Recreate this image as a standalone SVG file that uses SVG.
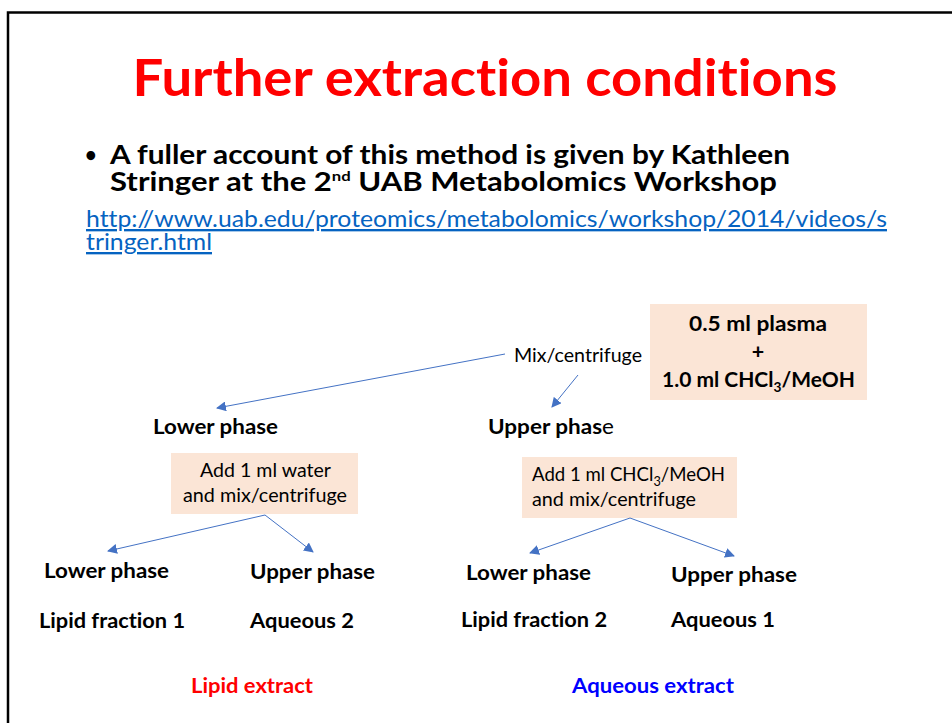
<svg xmlns="http://www.w3.org/2000/svg" width="952" height="723" viewBox="0 0 952 723">
<defs>
<style>
text{font-family:Lato,"Open Sans","Liberation Sans",sans-serif;fill:#000;font-variant-ligatures:none}
.b{font-weight:bold}
.lbl{font-size:20.5px;font-weight:bold}
.big{font-size:21.5px;font-weight:bold}
.box{fill:#FBE5D6}
.st{font-size:19px}
.con line{stroke:#4472C4;stroke-width:1;marker-end:url(#ah)}
</style>
<marker id="ah" viewBox="0 0 10 10" refX="9" refY="5" markerWidth="10" markerHeight="10" markerUnits="userSpaceOnUse" orient="auto">
<path d="M0,0 L10,5 L0,10 z" fill="#4472C4"/>
</marker>
</defs>
<rect x="0" y="0" width="952" height="723" fill="#fff"/>
<path d="M8,723 V12.5 H952" fill="none" stroke="#000" stroke-width="2.5"/>
<g id="title"><text x="485" y="96" text-anchor="middle" font-size="52" class="b" style="fill:#FF0000" textLength="705" lengthAdjust="spacingAndGlyphs">Further extraction conditions</text></g>
<g id="bullet">
<text x="85" y="162" font-size="20" class="b">•</text>
<text x="110" y="164" font-size="26" class="b" textLength="680" lengthAdjust="spacingAndGlyphs">A fuller account of this method is given by Kathleen</text>
<text x="110" y="191" font-size="26" class="b" textLength="667" lengthAdjust="spacingAndGlyphs">Stringer at the 2<tspan font-size="14" dy="-10">nd</tspan><tspan dy="10"> UAB Metabolomics Workshop</tspan></text>
<text x="86" y="227" font-size="23.5" style="fill:#0563C1;text-decoration:underline" textLength="801" lengthAdjust="spacingAndGlyphs">http://www.uab.edu/proteomics/metabolomics/workshop/2014/videos/s</text>
<text x="86" y="250" font-size="23.5" style="fill:#0563C1;text-decoration:underline" textLength="126" lengthAdjust="spacingAndGlyphs">tringer.html</text>
</g>
<g id="start">
<rect class="box" x="650" y="304" width="217" height="96"/>
<text x="758" y="331" text-anchor="middle" class="big" textLength="138" lengthAdjust="spacingAndGlyphs">0.5 ml plasma</text>
<text x="758" y="359" text-anchor="middle" class="big">+</text>
<text x="662" y="387" class="big" textLength="193" lengthAdjust="spacingAndGlyphs">1.0 ml CHCl<tspan font-size="14" dy="5">3</tspan><tspan dy="-5">/MeOH</tspan></text>
</g>
<g id="mix"><text x="514" y="362" class="st" textLength="128" lengthAdjust="spacingAndGlyphs">Mix/centrifuge</text></g>
<g id="lower1"><text x="153" y="434" class="lbl" textLength="125" lengthAdjust="spacingAndGlyphs">Lower phase</text></g>
<g id="upper1"><text x="488" y="434" class="lbl" textLength="126" lengthAdjust="spacingAndGlyphs">Upper phas<tspan font-weight="normal">e</tspan></text></g>
<g id="addwater">
<rect class="box" x="171" y="453" width="187" height="61"/>
<text x="200" y="477" class="st" textLength="131" lengthAdjust="spacingAndGlyphs">Add 1 ml water</text>
<text x="183" y="502" class="st" textLength="164" lengthAdjust="spacingAndGlyphs">and mix/centrifuge</text>
</g>
<g id="addchcl">
<rect class="box" x="522" y="457" width="215" height="61"/>
<text x="532" y="481" class="st" textLength="193" lengthAdjust="spacingAndGlyphs">Add 1 ml CHCl<tspan font-size="13" dy="5">3</tspan><tspan dy="-5">/MeOH</tspan></text>
<text x="532" y="506" class="st" textLength="164" lengthAdjust="spacingAndGlyphs">and mix/centrifuge</text>
</g>
<g id="lower2"><text x="44" y="578" class="lbl" textLength="125" lengthAdjust="spacingAndGlyphs">Lower phase</text></g>
<g id="upper2"><text x="250" y="579" class="lbl" textLength="125" lengthAdjust="spacingAndGlyphs">Upper phase</text></g>
<g id="lipid1"><text x="39" y="628" class="lbl" textLength="146" lengthAdjust="spacingAndGlyphs">Lipid fraction 1</text></g>
<g id="aq2"><text x="250" y="628" class="lbl" textLength="104" lengthAdjust="spacingAndGlyphs">Aqueous 2</text></g>
<g id="lower3"><text x="466" y="580" class="lbl" textLength="125" lengthAdjust="spacingAndGlyphs">Lower phase</text></g>
<g id="upper3"><text x="671" y="582" class="lbl" textLength="126" lengthAdjust="spacingAndGlyphs">Upper phase</text></g>
<g id="lipid2"><text x="461" y="627" class="lbl" textLength="146" lengthAdjust="spacingAndGlyphs">Lipid fraction 2</text></g>
<g id="aq1"><text x="671" y="627" class="lbl" textLength="104" lengthAdjust="spacingAndGlyphs">Aqueous 1</text></g>
<g id="lipidext"><text x="191" y="693" class="lbl" style="fill:#FF0000" textLength="122" lengthAdjust="spacingAndGlyphs">Lipid extract</text></g>
<g id="aqext"><text x="572" y="693" class="lbl" style="fill:#0000FF" textLength="162" lengthAdjust="spacingAndGlyphs">Aqueous extract</text></g>
<g id="connectors" class="con">
<line x1="505" y1="354" x2="217" y2="408"/>
<line x1="578" y1="375" x2="552" y2="407"/>
<line x1="265" y1="515" x2="108" y2="551"/>
<line x1="265" y1="515" x2="313" y2="552"/>
<line x1="630" y1="518" x2="530" y2="553"/>
<line x1="630" y1="518" x2="734" y2="556"/>
</g>
</svg>
